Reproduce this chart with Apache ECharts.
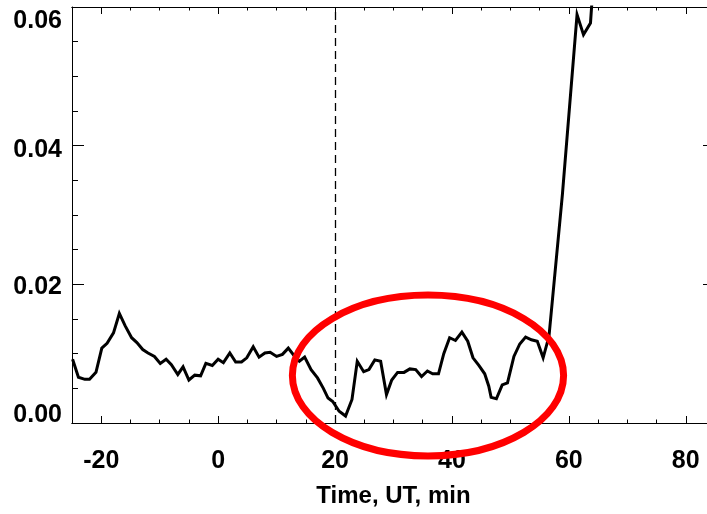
<!DOCTYPE html>
<html>
<head>
<meta charset="utf-8">
<script src="https://cdn.jsdelivr.net/npm/echarts@6/dist/echarts.min.js"></script>
<style>
	html, body { margin: 0; padding: 0; background: #fff; }
	#chart { width: 707px; height: 514px; }
</style>
</head>
<body>
<div id="chart"></div>
<script>
// sample times (min, UT) and flux values
const times = [
	-24.9, -23.9, -22.8, -22.0, -20.9, -19.9, -19.0, -17.9, -16.9, -15.9,
	-14.8, -13.9, -12.9, -12.0, -10.9, -9.9, -8.9, -8.0, -6.9, -6.0,
	-5.0, -4.0, -3.0, -2.1, -1.0, 0.0, 0.9, 2.0, 3.0, 4.0,
	4.9, 6.0, 7.0, 8.0, 8.9, 10.0, 11.0, 12.0, 13.0, 13.9,
	14.8, 15.9, 17.0, 18.0, 18.8, 19.6, 20.7, 21.8, 22.9, 23.8,
	24.9, 25.8, 26.8, 27.8, 28.8, 29.7, 30.7, 31.8, 32.8, 33.8,
	34.8, 35.8, 36.7, 37.7, 38.6, 39.6, 40.6, 41.7, 42.7, 43.6,
	44.6, 45.6, 46.3, 46.7, 47.6, 48.6, 49.5, 50.6, 51.6, 52.6,
	53.6, 54.6, 55.6, 56.6, 58.9, 61.4, 62.5, 63.7, 64.7,
]
const flux = [
	0.0092, 0.0066, 0.0063, 0.0063, 0.0073, 0.0108, 0.0115, 0.0130, 0.0158, 0.0140,
	0.0123, 0.0116, 0.0106, 0.0101, 0.0096, 0.0086, 0.0092, 0.0084, 0.0070, 0.0081,
	0.0062, 0.0069, 0.0068, 0.0086, 0.0083, 0.0092, 0.0087, 0.0101, 0.0088, 0.0088,
	0.0094, 0.0110, 0.0095, 0.0101, 0.0102, 0.0096, 0.0099, 0.0108, 0.0097, 0.0089,
	0.0095, 0.0077, 0.0065, 0.0050, 0.0036, 0.0031, 0.0017, 0.0010, 0.0034, 0.0089,
	0.0074, 0.0077, 0.0091, 0.0089, 0.0041, 0.0062, 0.0073, 0.0073, 0.0078, 0.0077,
	0.0067, 0.0075, 0.0071, 0.0071, 0.0100, 0.0123, 0.0119, 0.0131, 0.0118, 0.0094,
	0.0083, 0.0071, 0.0053, 0.0037, 0.0035, 0.0055, 0.0058, 0.0096, 0.0114, 0.0124,
	0.0120, 0.0118, 0.0094, 0.0125, 0.0330, 0.0589, 0.0560, 0.0577, 0.0700,
]

const xMajorTicks = [-20, 0, 20, 40, 60, 80]
const xMinorTicks = [-15, -10, -5, 5, 10, 15, 25, 30, 35, 45, 50, 55, 65, 70, 75]
const eventTime = 20

// highlighted interval (data units): centre and half-widths
const ellipseCenter = [35.9, 0.00685]
const ellipseRadius = [23.2, 0.0116]

const FONT = 'Liberation Sans'
const black = '#000'

const xBase = (position, ticks, len, labels) => ({
	type: 'value',
	position: position,
	min: -25,
	max: 85,
	axisLine: { show: true, onZero: false, lineStyle: { color: black, width: 1 } },
	axisTick: { show: true, inside: true, length: len, customValues: ticks, lineStyle: { color: black, width: 1 } },
	axisLabel: labels
		? { show: true, customValues: ticks, margin: 26, color: black, fontFamily: FONT, fontWeight: 'bold', fontSize: 25 }
		: { show: false },
	splitLine: { show: false },
})

const yBase = (position, labels) => ({
	type: 'value',
	position: position,
	min: 0,
	max: 0.06,
	interval: 0.02,
	axisLine: { show: true, onZero: false, lineStyle: { color: black, width: 1 } },
	axisTick: { show: true, inside: true, length: 12, lineStyle: { color: black, width: 1 } },
	minorTick: { show: true, splitNumber: 4, length: 6, lineStyle: { color: black, width: 1 } },
	axisLabel: labels
		? {
			show: true,
			margin: 10,
			color: black,
			fontFamily: FONT,
			fontWeight: 'bold',
			fontSize: 25,
			formatter: (v) => {
				const key = 'l' + Math.round(v * 100)
				return '{' + key + '|' + v.toFixed(2) + '}'
			},
			rich: {
				l6: { padding: [28, 0, 0, 0] },
				l4: { padding: [9, 0, 0, 0] },
				l2: { padding: [5, 0, 0, 0] },
				l0: { padding: [0, 0, 15, 0] },
			},
		}
		: { show: false },
	splitLine: { show: false },
	minorSplitLine: { show: false },
})

const chart = echarts.init(document.getElementById('chart'), null, { renderer: 'canvas' })

const xMain = xBase('bottom', xMajorTicks, 7, true)
xMain.name = 'Time, UT, min'
xMain.nameLocation = 'middle'
xMain.nameGap = 61
xMain.nameTextStyle = { color: black, fontFamily: FONT, fontWeight: 'bold', fontSize: 24 }

const option = {
	animation: false,
	backgroundColor: '#fff',
	// plot box runs past the right edge of the canvas, as in the original
	grid: { left: 72, top: 7, width: 643, height: 416, containLabel: false, outerBoundsMode: 'none' },
	xAxis: [
		xMain,
		xBase('bottom', xMinorTicks, 3.5, false),
		xBase('top', xMajorTicks, 7, false),
		xBase('top', xMinorTicks, 3.5, false),
	],
	yAxis: [yBase('left', true), yBase('right', false)],
	series: [
		{
			type: 'line',
			xAxisIndex: 0,
			yAxisIndex: 0,
			data: times.map((t, i) => [t, flux[i]]),
			showSymbol: false,
			symbol: 'none',
			clip: true,
			lineStyle: { color: black, width: 3, join: 'miter' },
			markLine: {
				silent: true,
				symbol: 'none',
				label: { show: false },
				lineStyle: { color: black, width: 1.3, type: [8, 5] },
				data: [{ xAxis: eventTime }],
			},
			z: 3,
		},
	],
}

chart.setOption(option)

// red ellipse placed from data coordinates
const c = chart.convertToPixel({ gridIndex: 0 }, ellipseCenter)
const e = chart.convertToPixel({ gridIndex: 0 }, [ellipseCenter[0] + ellipseRadius[0], ellipseCenter[1] + ellipseRadius[1]])
chart.setOption({
	graphic: [
		{
			type: 'ellipse',
			z: 100,
			shape: { cx: c[0], cy: c[1], rx: Math.abs(e[0] - c[0]), ry: Math.abs(c[1] - e[1]) },
			style: { fill: 'none', stroke: '#ff0000', lineWidth: 7 },
			silent: true,
		},
	],
})
</script>
</body>
</html>
